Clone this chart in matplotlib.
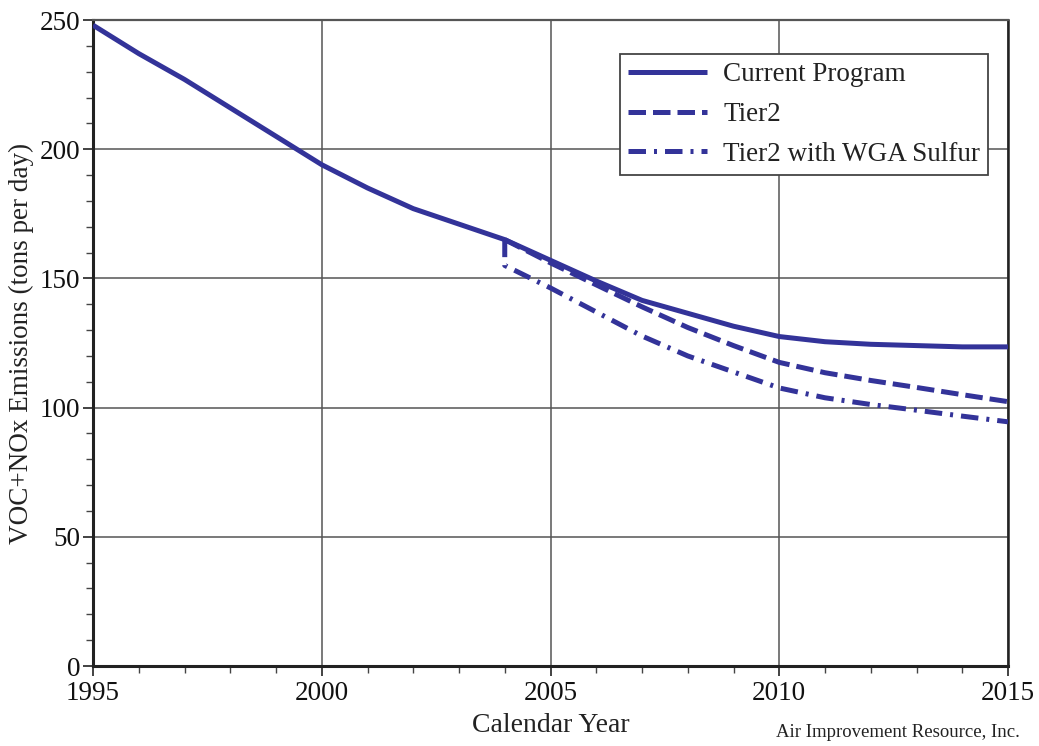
import matplotlib
matplotlib.use("Agg")
import matplotlib.pyplot as plt
from matplotlib.ticker import MultipleLocator

plt.rcParams['font.family'] = ['Liberation Serif', 'DejaVu Serif']

years = list(range(1995, 2016))
current_program = [248, 237, 227, 216, 205, 194, 185, 177, 171, 165,
                   157, 149, 141.5, 136.5, 131.5, 127.5, 125.5, 124.5, 124, 123.5, 123.5]

tier2_years = list(range(2004, 2016))
tier2 = [165, 156, 147.5, 139, 131, 124, 117.5, 113.5, 110.5, 107.8, 105, 102.3]

wga_years = [2004, 2004, 2005, 2006, 2007, 2008, 2009, 2010, 2011, 2012, 2013, 2014, 2015]
wga = [165, 155, 146.3, 137, 127.7, 120, 113.8, 107.6, 103.8, 101.2, 99, 96.7, 94.5]

color = '#333399'
lw = 3.6

fig = plt.figure(figsize=(10.39, 7.46), dpi=100)
ax = fig.add_axes([93 / 1039, 1 - 666 / 746, (1008 - 93) / 1039, (666 - 20) / 746])

ax.plot(years, current_program, color=color, lw=lw, solid_capstyle='butt',
        label='Current Program', zorder=3)
ax.plot(tier2_years, tier2, color=color, lw=lw, linestyle=(0, (3.5, 1.4)),
        dash_capstyle='butt', label='Tier2', zorder=3)
ax.plot(wga_years, wga, color=color, lw=lw, linestyle=(0, (3.5, 1.6, 0.6, 1.6)),
        dash_capstyle='butt', label='Tier2 with WGA Sulfur', zorder=3)

ax.set_xlim(1995, 2015)
ax.set_ylim(0, 250)
ax.xaxis.set_major_locator(MultipleLocator(5))
ax.xaxis.set_minor_locator(MultipleLocator(1))
ax.yaxis.set_major_locator(MultipleLocator(50))
ax.yaxis.set_minor_locator(MultipleLocator(10))
ax.tick_params(which='major', direction='out', length=7, width=1.2, labelsize=19.5,
               colors='#222222', labelcolor='#111111')
ax.tick_params(which='minor', direction='out', length=5, width=1.0, colors='#444444')
ax.tick_params(axis='x', pad=4)
ax.tick_params(axis='y', pad=2)

ax.grid(which='major', color='#555555', linewidth=1.1, zorder=1)

for side in ['left', 'bottom']:
    ax.spines[side].set_linewidth(2.2)
    ax.spines[side].set_color('#222222')
ax.spines['right'].set_linewidth(1.8)
ax.spines['right'].set_color('#222222')
ax.spines['top'].set_linewidth(1.6)
ax.spines['top'].set_color('#555555')

ax.set_xlabel('Calendar Year', fontsize=20, color='#222222', labelpad=5)
ax.set_ylabel('VOC+NOx Emissions (tons per day)', fontsize=19.5, color='#222222', labelpad=4)

leg = ax.legend(loc='upper right', bbox_to_anchor=(988 / 1039, 1 - 54 / 746),
                bbox_transform=fig.transFigure, fontsize=19.5, frameon=True,
                fancybox=False, edgecolor='#444444', framealpha=1,
                handlelength=2.9, handletextpad=0.6, labelspacing=0.55,
                borderpad=0.3, borderaxespad=0)
leg.get_frame().set_linewidth(1.3)
for t in leg.get_texts():
    t.set_color('#222222')

fig.text(1020 / 1039, 1 - 737 / 746, 'Air Improvement Resource, Inc.',
         fontsize=13.5, ha='right', va='baseline', color='#222222')

fig.savefig('out.png', dpi=100)
